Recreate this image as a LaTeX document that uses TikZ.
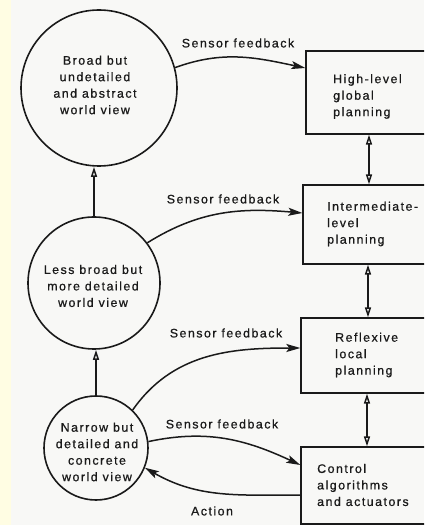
\documentclass[tikz,border=0pt]{standalone}
\usepackage{fontspec}
\setmainfont{Liberation Sans}[LetterSpace=12, FakeBold=0.7]
\usetikzlibrary{arrows.meta}
\definecolor{paper}{HTML}{F8F8F6}
\definecolor{margin}{HTML}{FFFDE3}
\definecolor{ink}{HTML}{1A1A1A}

\begin{document}
\begin{tikzpicture}[x=1pt,y=1pt,
  txt/.style={font=\fontsize{12.4}{16.5}\selectfont, text=ink, inner sep=0pt},
  view/.style={circle, draw=ink, line width=1.6pt, inner sep=0pt},
  stage/.style={rectangle, draw=ink, line width=1.3pt, inner sep=0pt},
  feed/.style={draw=ink, line width=1.5pt, -{Stealth[length=14pt,width=8pt,inset=3pt]}},
  upward/.style={draw=ink, line width=1.5pt, -{Triangle[open,length=10pt,width=6pt]}},
  twoway/.style={draw=ink, line width=1.5pt, {Triangle[open,length=10pt,width=6pt]}-{Triangle[open,length=10pt,width=6pt]}}
]
\useasboundingbox (0,0) rectangle (424,525);
\clip (0,0) rectangle (424,525);
\fill[paper] (0,0) rectangle (424,525);
\fill[margin] (0,0) rectangle (11,525);

% world views
\node[view, minimum size=156pt] (c1) at (99,437) {};
\node[view, minimum size=132pt] (c2) at (94,242) {};
\node[view, minimum size=104pt] (c3) at (96,77) {};
\node[txt, align=center] (t1) at (95,440) {Broad but\\undetailed\\and abstract\\world view};
\node[txt, align=center] (t2) at (93,239) {Less broad but\\more detailed\\world view};
\node[txt, align=center] (t3) at (97,73) {Narrow but\\detailed and\\concrete\\world view};

% planning levels
\node[stage, minimum width=134pt, minimum height=83pt] (b1) at (373,432.5) {};
\node[stage, minimum width=137pt, minimum height=79pt] (b2) at (371.5,300.5) {};
\node[stage, minimum width=139pt, minimum height=75pt] (b3) at (370.5,169.5) {};
\node[stage, minimum width=139pt, minimum height=77pt] (b4) at (370.5,39.5) {};
\node[txt, align=left, anchor=west] (s1) at (333,428.5) {High-level\\global\\planning};
\node[txt, align=left, anchor=west] (s2) at (327,301) {Intermediate-\\level\\planning};
\node[txt, align=left, anchor=west] (s3) at (335,170) {Reflexive\\local\\planning};
\node[txt, align=left, anchor=west] (s4) at (317,40) {Control\\algorithms\\and actuators};

% labels
\node[txt] (l1) at (238,482) {Sensor feedback};
\node[txt] (l2) at (223,326) {Sensor feedback};
\node[txt] (l3) at (226,192) {Sensor feedback};
\node[txt] (l4) at (222,101) {Sensor feedback};
\node[txt] (l5) at (212,14) {Action};

% sensor feedback and action
\draw[feed] (c1.15) to[out=20,in=168] ([yshift=24.5pt]b1.west);
\draw[feed] (c2.37) to[out=32,in=175] ([yshift=11.5pt]b2.west);
\draw[feed] (c3.46) to[out=55,in=180] ([yshift=7.5pt]b3.west);
\draw[feed] (c3.7) to[out=12,in=155] ([yshift=20.5pt]b4.west);
\draw[feed] ([yshift=-9.5pt]b4.west) to[out=180,in=-30] (c3.-22);

% world view refinement
\draw[upward] (c2.north) -- (c2.north |- c1.south);
\draw[upward] (c3.north) -- (c3.north |- c2.south);

% links between planning levels
\coordinate (k1) at (369,0);
\coordinate (k2) at (368,0);
\coordinate (k3) at (367,0);
\draw[twoway] (b1.south -| k1) -- (b2.north -| k1);
\draw[twoway] (b2.south -| k2) -- (b3.north -| k2);
\draw[twoway] (b3.south -| k3) -- (b4.north -| k3);
\end{tikzpicture}
\end{document}
